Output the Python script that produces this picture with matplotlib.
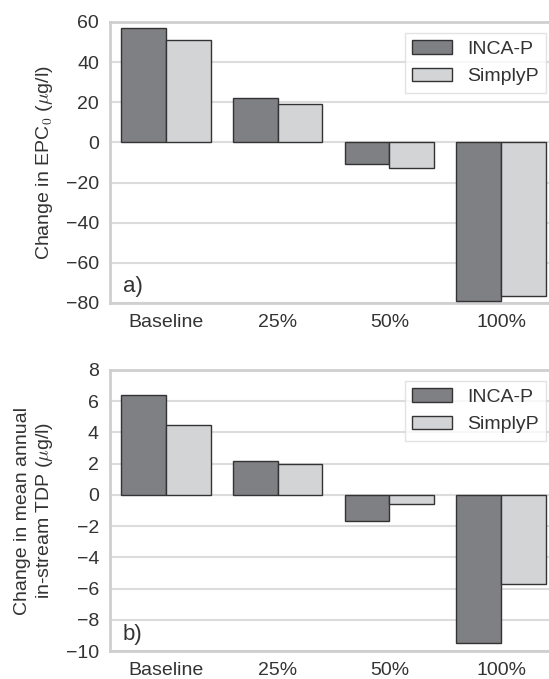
import matplotlib
matplotlib.use("Agg")
import matplotlib.pyplot as plt
import numpy as np

plt.rcParams['font.family'] = ['Liberation Sans', 'DejaVu Sans']
plt.rcParams['mathtext.fontset'] = 'cm'

scenarios = ["Baseline", "25%", "50%", "100%"]
models = ["INCA-P", "SimplyP"]
epc0_inca = [57, 22, -11, -79]
epc0_simply = [51, 19, -12.6, -76.6]
tdp_inca = [6.4, 2.2, -1.7, -9.5]
tdp_simply = [4.5, 1.95, -0.6, -5.7]

dark = '#7f8084'
light = '#d3d4d6'
edge = '#333333'
spine = '#cfcfcf'
grid = '#dcdcdc'

fig = plt.figure(figsize=(5.49, 6.79), dpi=100)
ax1 = fig.add_axes([0.2004, 0.5538, 0.8142, 0.4138])
ax2 = fig.add_axes([0.2004, 0.0412, 0.8142, 0.4139])

x = np.arange(len(scenarios))
w = 0.4


def draw(ax, inca, simply, ylim, yticks, ylabel, tag):
    ax.bar(x - w / 2, inca, w, color=dark, edgecolor=edge, linewidth=1, label=models[0], zorder=3)
    ax.bar(x + w / 2, simply, w, color=light, edgecolor=edge, linewidth=1, label=models[1], zorder=3)
    ax.set_xlim(-0.5, 3.5)
    ax.set_ylim(*ylim)
    ax.set_yticks(yticks)
    ax.set_yticklabels([str(v).replace('-', '\u2212') for v in yticks])
    ax.set_xticks(x)
    ax.set_xticklabels(scenarios)
    ax.tick_params(length=0, labelsize=14, colors='#333333', pad=8)
    ax.yaxis.grid(True, color=grid, linewidth=1.5, zorder=0)
    ax.set_axisbelow(True)
    for s in ax.spines.values():
        s.set_color(spine)
        s.set_linewidth(2)
    ax.set_ylabel(ylabel, fontsize=14, color='#333333')
    ax.yaxis.set_label_coords(-0.123, 0.5)
    ax.text(0.028, 0.04, tag, transform=ax.transAxes, fontsize=16, color='#333333')
    leg = ax.legend(loc='upper right', fontsize=14, frameon=True, fancybox=False,
                    borderaxespad=0.55, handlelength=2.05, handletextpad=0.75,
                    labelcolor='#333333')
    leg.get_frame().set_edgecolor(grid)
    leg.get_frame().set_linewidth(1)


draw(ax1, epc0_inca, epc0_simply, (-80, 60), list(range(-80, 61, 20)),
     r"Change in EPC$_0$ ($\mu$g/l)", "a)")
draw(ax2, tdp_inca, tdp_simply, (-10, 8), list(range(-10, 9, 2)),
     "Change in mean annual\nin-stream TDP ($\\mu$g/l)", "b)")

fig.savefig("out.png", dpi=100)
